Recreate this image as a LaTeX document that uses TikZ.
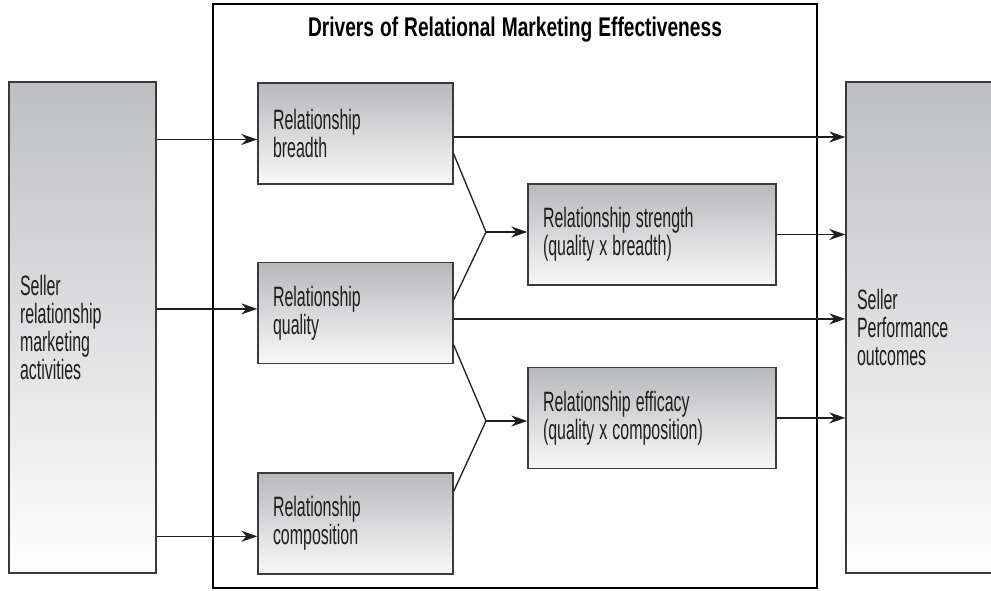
\documentclass[tikz,border=0pt]{standalone}
\usepackage{fontspec}
\setmainfont{Liberation Sans}[FakeStretch=0.57, BoldFeatures={FakeStretch=0.71}]
\usepackage{tikz}
\usetikzlibrary{arrows.meta, positioning, calc}
\definecolor{boxline}{RGB}{58,58,60}
\definecolor{boxtop}{RGB}{184,185,188}
\definecolor{boxbot}{RGB}{248,248,248}
\definecolor{sidetop}{RGB}{190,191,194}
\definecolor{txtdark}{RGB}{30,30,30}
\newcommand{\boxfont}{\fontsize{28}{28}\selectfont\fontdimen6\font=15pt\relax}
\newcommand{\headfont}{\fontsize{27}{27}\selectfont\bfseries\spaceskip=6pt\relax}
\tikzset{
  drvbox/.style={rectangle, draw=boxline, top color=boxtop, bottom color=boxbot,
    text width=165pt, inner xsep=15pt, minimum height=101pt, align=left,
    font=\boxfont, text=txtdark, line width=1.4pt},
  effbox/.style={drvbox, text width=218pt},
  sidebox/.style={rectangle, draw=boxline, top color=sidetop, bottom color=white,
    inner xsep=11pt, minimum height=491pt, align=left,
    font=\boxfont, text=txtdark, line width=1.4pt},
  frame/.style={rectangle, draw=black, line width=2.6pt, minimum width=604pt, minimum height=584pt},
  heading/.style={font=\headfont, text=black},
  arrow/.style={-{Stealth[length=16pt, width=11pt]}, line width=1.3pt, color=txtdark},
  line/.style={line width=1.3pt, color=txtdark}
}

\begin{document}
\begin{tikzpicture}[x=1pt, y=-1pt]
  \useasboundingbox (0,0) rectangle (991,591);

  \node[frame] (drivers) at (515,296) {};
  \node[heading, below=11pt of drivers.north] (title) {Drivers of Relational Marketing Effectiveness};

  \node[sidebox, text width=125pt] (activities) at (82.5,327.5) {Seller\\relationship\\marketing\\activities};
  \node[sidebox, text width=126pt] (outcomes) at (920,327.5) {Seller\\Performance\\outcomes};

  \node[drvbox] (breadth) at (355.5,133.5) {Relationship\\breadth};
  \node[drvbox, below=77pt of breadth] (quality) {Relationship\\quality};
  \node[drvbox, below=108pt of quality] (composition) {Relationship\\composition};
  \node[effbox] (strength) at (652,234.5) {Relationship strength\\(quality x breadth)};
  \node[effbox, below=81pt of strength] (efficacy) {Relationship efficacy\\(quality x composition)};

  % inputs from the activities box
  \coordinate (inB) at ($(breadth.west)+(0,6)$);
  \coordinate (inQ) at ($(quality.west)+(0,-4)$);
  \coordinate (inC) at ($(composition.west)+(0,13)$);
  \draw[arrow] (activities.east |- inB) -- (inB);
  \draw[arrow] (activities.east |- inQ) -- (inQ);
  \draw[arrow] (activities.east |- inC) -- (inC);

  % interaction terms
  \coordinate (j1) at (486,232);
  \coordinate (j2) at (486,421);
  \draw[line] ($(breadth.east)+(0,20.5)$) -- (j1) -- ($(quality.east)+(0,-13)$);
  \draw[line] ($(quality.east)+(0,32)$) -- (j2) -- ($(composition.east)+(0,-32)$);
  \draw[arrow] (j1) -- (j1 -| strength.west);
  \draw[arrow] (j2) -- (j2 -| efficacy.west);

  % outputs to performance
  \coordinate (outB) at ($(breadth.east)+(0,3.5)$);
  \coordinate (outQ) at ($(quality.east)+(0,6)$);
  \draw[arrow] (outB) -- (outB -| outcomes.west);
  \draw[arrow] (strength.east) -- (strength.east -| outcomes.west);
  \draw[arrow] (outQ) -- (outQ -| outcomes.west);
  \draw[arrow] (efficacy.east) -- (efficacy.east -| outcomes.west);
\end{tikzpicture}
\end{document}
